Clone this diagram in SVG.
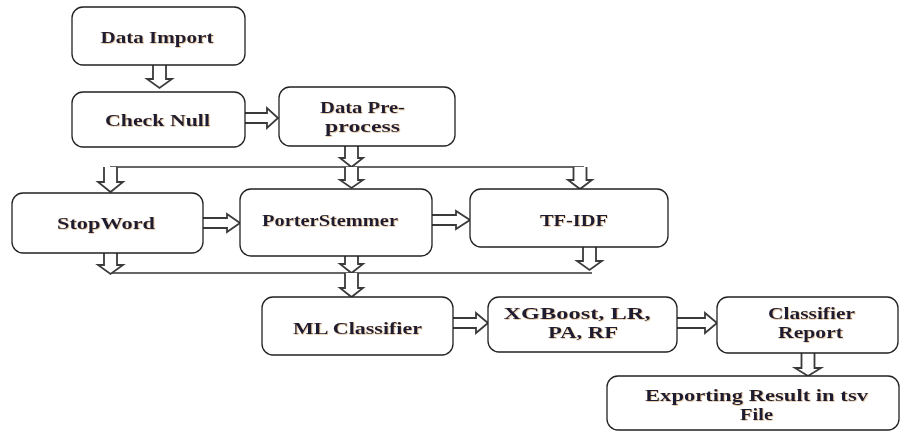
<svg xmlns="http://www.w3.org/2000/svg" width="900" height="432" viewBox="0 0 900 432">
<defs>
<filter id="glow" x="-10%" y="-30%" width="120%" height="160%">
<feDropShadow dx="0.7" dy="0.7" stdDeviation="0.6" flood-color="#b8741c" flood-opacity="0.5"/>
</filter>
</defs>
<style>
.box{fill:#fff;stroke:#222;stroke-width:1.3}
.t{font-family:'Liberation Serif','Times New Roman',serif;font-weight:bold;font-size:17px;fill:#1c1c30;text-anchor:middle;filter:url(#glow)}
.ar{fill:#fff;stroke:#3a3a3a;stroke-width:1.8;stroke-linejoin:miter}
.ln{fill:none;stroke:#333;stroke-width:1.3}
</style>
<rect width="900" height="432" fill="#fff"/>
<g id="connectors">
<line class="ln" x1="110" y1="167" x2="584" y2="167"/>
<line class="ln" x1="110" y1="273" x2="592" y2="273"/>
<path class="ar" d="M153,65 V79 H147 L159.5,88 L172,79 H166 V65"/>
<path class="ar" d="M245,113 H267 V108 L278,118 L267,128 V123 H245"/>
<path class="ar" d="M345,146 V158 H340 L351.5,167 L363,158 H358 V146"/>
<path class="ar" d="M345,167 V180 H340 L351.5,188 L363,180 H358 V167"/>
<path class="ar" d="M104,167 V182 H98 L110.5,192 L123,182 H117 V167"/>
<path class="ar" d="M573.5,167 V180 H568 L580,189 L592,180 H586.5 V167"/>
<path class="ar" d="M203,218 H227 V214 L240,223 L227,232 V228 H203"/>
<path class="ar" d="M432,215 H456 V211 L470,220 L456,229 V225 H432"/>
<path class="ar" d="M104,253 V265 H98 L110.5,274 L123,265 H117 V253"/>
<path class="ar" d="M345,256 V264 H340 L351.5,273 L363,264 H358 V256"/>
<path class="ar" d="M583,247 V261 H577 L589.5,270 L602,261 H596 V247"/>
<path class="ar" d="M345,273 V288 H340 L351.5,297 L363,288 H358 V273"/>
<path class="ar" d="M453,318 H476 V313 L488,323 L476,333 V328 H453"/>
<path class="ar" d="M677,318 H705 V313 L717,323 L705,333 V328 H677"/>
<path class="ar" d="M801.5,353 V368 H795 L808,376 L821,368 H814.5 V353"/>
</g>
<g id="data-import">
<rect class="box" x="72" y="7" width="173" height="58" rx="11"/>
<text class="t" x="157" y="43" textLength="113" lengthAdjust="spacingAndGlyphs">Data Import</text>
</g>
<g id="check-null">
<rect class="box" x="72" y="92" width="173" height="55" rx="11"/>
<text class="t" x="157.5" y="126" textLength="105" lengthAdjust="spacingAndGlyphs">Check Null</text>
</g>
<g id="data-preprocess">
<rect class="box" x="279" y="87" width="176" height="59" rx="11"/>
<text class="t" x="362.5" y="113" textLength="85" lengthAdjust="spacingAndGlyphs">Data Pre-</text>
<text class="t" x="362.5" y="132" textLength="75" lengthAdjust="spacingAndGlyphs">process</text>
</g>
<g id="stopword">
<rect class="box" x="12" y="193" width="191" height="60" rx="11"/>
<text class="t" x="106" y="229" textLength="98" lengthAdjust="spacingAndGlyphs">StopWord</text>
</g>
<g id="porterstemmer">
<rect class="box" x="240" y="189" width="192" height="67" rx="11"/>
<text class="t" x="330" y="226" textLength="136" lengthAdjust="spacingAndGlyphs">PorterStemmer</text>
</g>
<g id="tfidf">
<rect class="box" x="470" y="189" width="198" height="58" rx="11"/>
<text class="t" x="574" y="226" textLength="68" lengthAdjust="spacingAndGlyphs">TF-IDF</text>
</g>
<g id="ml-classifier">
<rect class="box" x="262" y="297" width="191" height="58" rx="11"/>
<text class="t" x="357.5" y="334" textLength="129" lengthAdjust="spacingAndGlyphs">ML Classifier</text>
</g>
<g id="xgboost">
<rect class="box" x="488" y="297" width="189" height="55" rx="11"/>
<text class="t" x="577" y="319" textLength="147" lengthAdjust="spacingAndGlyphs">XGBoost, LR,</text>
<text class="t" x="583" y="338" textLength="70" lengthAdjust="spacingAndGlyphs">PA, RF</text>
</g>
<g id="classifier-report">
<rect class="box" x="717" y="297" width="181" height="56" rx="11"/>
<text class="t" x="811.5" y="319" textLength="87" lengthAdjust="spacingAndGlyphs">Classifier</text>
<text class="t" x="810.5" y="338" textLength="65" lengthAdjust="spacingAndGlyphs">Report</text>
</g>
<g id="exporting">
<rect class="box" x="607" y="376" width="292" height="54" rx="11"/>
<text class="t" x="756.5" y="401" textLength="223" lengthAdjust="spacingAndGlyphs">Exporting  Result in tsv</text>
<text class="t" x="756.5" y="420" textLength="33" lengthAdjust="spacingAndGlyphs">File</text>
</g>
</svg>
